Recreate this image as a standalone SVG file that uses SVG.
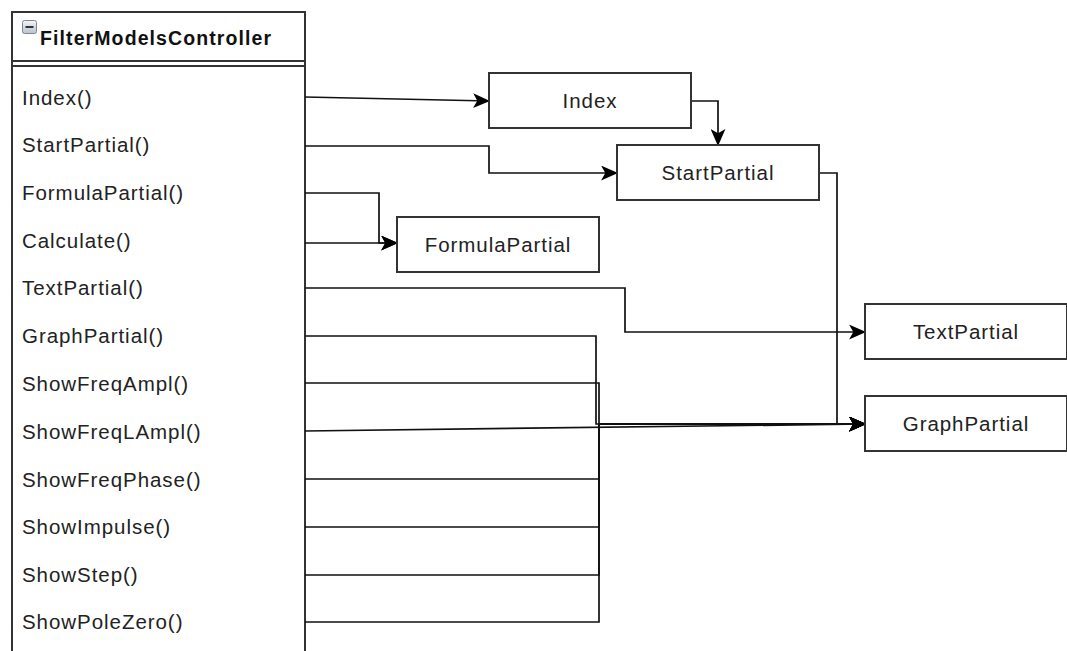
<svg xmlns="http://www.w3.org/2000/svg" width="1067" height="651" viewBox="0 0 1067 651">
  <style>
    .box { fill: #ffffff; stroke: #333333; stroke-width: 2; }
    .lbl { font-family: "Liberation Sans", Arial, sans-serif; font-size: 20.5px; letter-spacing: 0.95px; fill: #222222; }
    .mid { text-anchor: middle; }
    .title { font-family: "Liberation Sans", Arial, sans-serif; font-size: 19.5px; font-weight: bold; letter-spacing: 1.1px; fill: #111111; }
    .edge { fill: none; stroke: #111111; stroke-width: 1.7; }
    .arr { marker-end: url(#arrow); }
  </style>
  <defs>
    <marker id="arrow" viewBox="0 0 16 14" refX="15" refY="7" markerWidth="17" markerHeight="15" markerUnits="userSpaceOnUse" orient="auto">
      <path d="M0,0 L16,7 L0,14 L4,7 Z" fill="#000000"/>
    </marker>
    <linearGradient id="iconGrad" x1="0" y1="0" x2="0" y2="1">
      <stop offset="0" stop-color="#f4f6f8"/>
      <stop offset="1" stop-color="#b9c2cc"/>
    </linearGradient>
  </defs>

  <rect width="1067" height="651" fill="#ffffff"/>

  <!-- controller class -->
  <g id="FilterModelsController">
    <rect class="box" x="12" y="12" width="293" height="660"/>
    <line x1="12" y1="61" x2="305" y2="61" stroke="#333333" stroke-width="2"/>
    <line x1="12" y1="66" x2="305" y2="66" stroke="#333333" stroke-width="2"/>
    <rect x="22.5" y="20.5" width="14" height="13" rx="2" fill="url(#iconGrad)" stroke="#7d8792" stroke-width="1"/>
    <line x1="25.5" y1="27" x2="33.5" y2="27" stroke="#333333" stroke-width="2"/>
    <text class="title" x="40" y="45">FilterModelsController</text>
    <text class="lbl" x="22" y="105">Index()</text>
    <text class="lbl" x="22" y="152">StartPartial()</text>
    <text class="lbl" x="22" y="200">FormulaPartial()</text>
    <text class="lbl" x="22" y="248">Calculate()</text>
    <text class="lbl" x="22" y="295">TextPartial()</text>
    <text class="lbl" x="22" y="343">GraphPartial()</text>
    <text class="lbl" x="22" y="391">ShowFreqAmpl()</text>
    <text class="lbl" x="22" y="439">ShowFreqLAmpl()</text>
    <text class="lbl" x="22" y="487">ShowFreqPhase()</text>
    <text class="lbl" x="22" y="534">ShowImpulse()</text>
    <text class="lbl" x="22" y="582">ShowStep()</text>
    <text class="lbl" x="22" y="629">ShowPoleZero()</text>
  </g>

  <!-- connectors -->
  <g id="connectors">
    <path class="edge arr" d="M305,97 L489,101"/>
    <path class="edge arr" d="M691,101 L718,101 L718,145"/>
    <path class="edge arr" d="M305,146 L489,146 L489,173 L617,173"/>
    <path class="edge arr" d="M305,193 L379,193 L379,243 L397,243"/>
    <path class="edge arr" d="M305,243 L397,243"/>
    <path class="edge arr" d="M305,288 L625,288 L625,332 L865,332"/>
    <path class="edge arr" d="M819,173 L837,173 L837,424 L865,424"/>
    <path class="edge arr" d="M305,336 L596,336 L596,424 L865,424"/>
    <path class="edge arr" d="M305,383 L599,383 L599,424 L865,424"/>
    <path class="edge arr" d="M305,431 L865,424"/>
    <path class="edge arr" d="M305,479 L599,479 L599,424 L865,424"/>
    <path class="edge arr" d="M305,527 L599,527 L599,424 L865,424"/>
    <path class="edge arr" d="M305,575 L599,575 L599,424 L865,424"/>
    <path class="edge arr" d="M305,622 L599,622 L599,424 L865,424"/>
  </g>

  <!-- views -->
  <g id="Index">
    <rect class="box" x="489" y="73" width="202" height="55"/>
    <text class="lbl mid" x="590" y="108">Index</text>
  </g>
  <g id="StartPartial">
    <rect class="box" x="617" y="145" width="202" height="55"/>
    <text class="lbl mid" x="718" y="180">StartPartial</text>
  </g>
  <g id="FormulaPartial">
    <rect class="box" x="397" y="217" width="202" height="55"/>
    <text class="lbl mid" x="498" y="252">FormulaPartial</text>
  </g>
  <g id="TextPartial">
    <rect class="box" x="865" y="304" width="202" height="55"/>
    <text class="lbl mid" x="966" y="339">TextPartial</text>
  </g>
  <g id="GraphPartial">
    <rect class="box" x="865" y="396" width="202" height="55"/>
    <text class="lbl mid" x="966" y="431">GraphPartial</text>
  </g>
</svg>
